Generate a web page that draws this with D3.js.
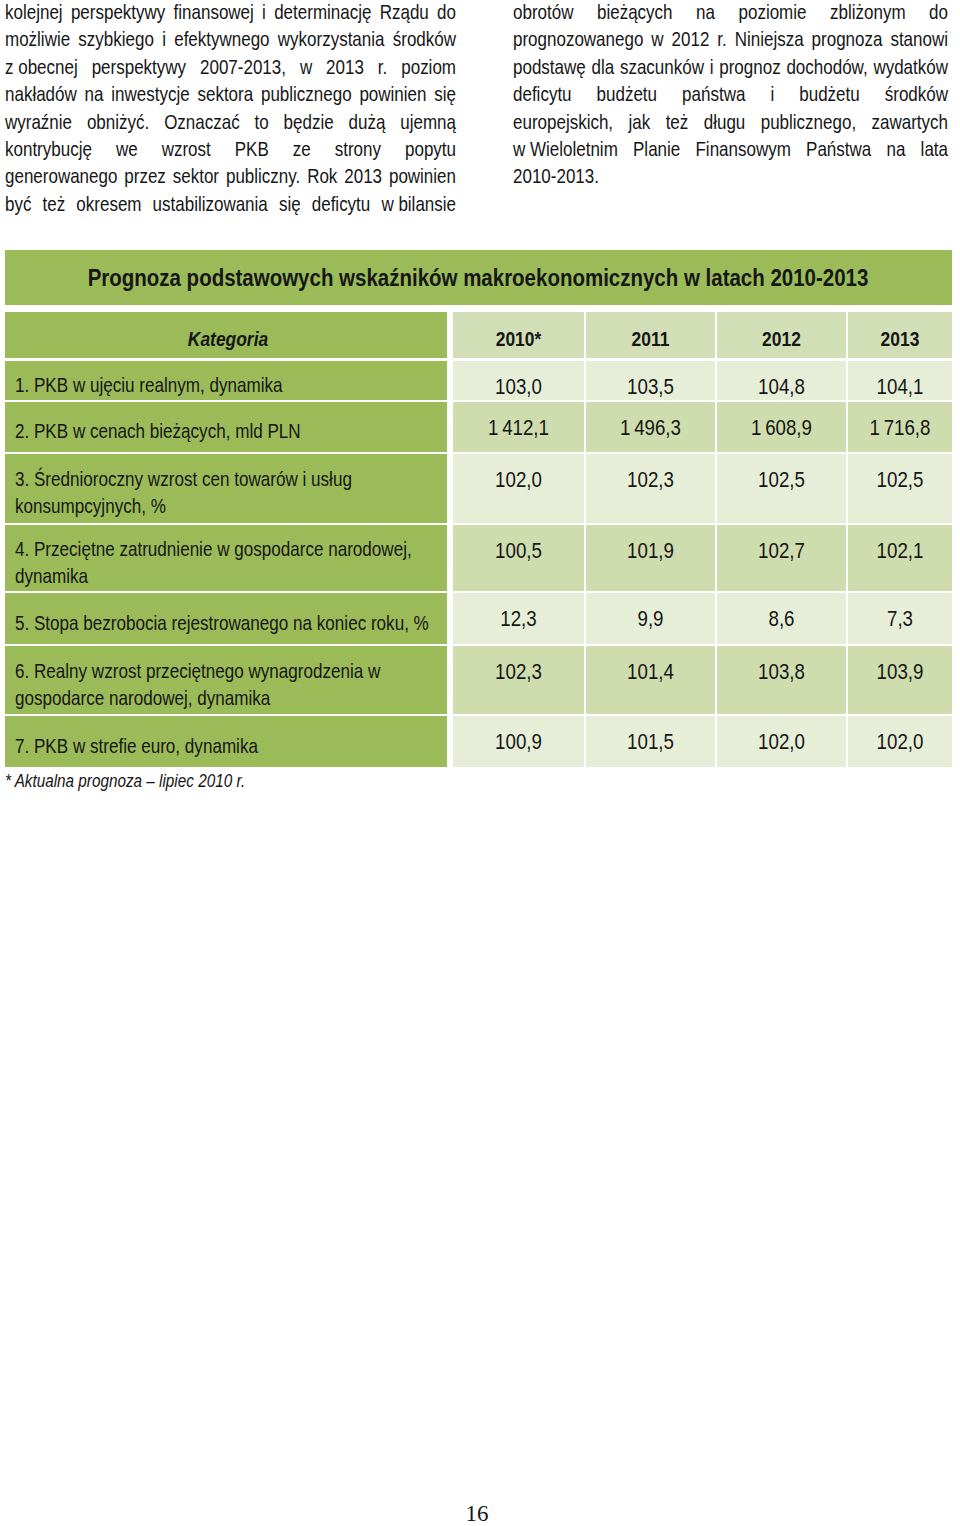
<!DOCTYPE html>
<html><head><meta charset="utf-8">
<script src="https://cdn.jsdelivr.net/npm/d3@7"></script>
<style>body{margin:0;background:#fff} svg{display:block}</style>
</head><body>
<script>
// ---------- DATA ----------
const leftParagraph = [
  "kolejnej perspektywy finansowej i determinację Rządu do",
  "możliwie szybkiego i efektywnego wykorzystania środków",
  "z\u00a0obecnej perspektywy 2007-2013, w 2013 r. poziom",
  "nakładów na inwestycje sektora publicznego powinien się",
  "wyraźnie obniżyć. Oznaczać to będzie dużą ujemną",
  "kontrybucję we wzrost PKB ze strony popytu",
  "generowanego przez sektor publiczny. Rok 2013 powinien",
  "być też okresem ustabilizowania się deficytu w\u00a0bilansie"
];
const rightParagraph = [
  "obrotów bieżących na poziomie zbliżonym do",
  "prognozowanego w 2012 r. Niniejsza prognoza stanowi",
  "podstawę dla szacunków i prognoz dochodów, wydatków",
  "deficytu budżetu państwa i budżetu środków",
  "europejskich, jak też długu publicznego, zawartych",
  "w\u00a0Wieloletnim Planie Finansowym Państwa na lata",
  "2010-2013."
];
const tableTitle = "Prognoza podstawowych wskaźników makroekonomicznych w latach 2010-2013";
const categoryHeader = "Kategoria";
const years = ["2010*", "2011", "2012", "2013"];
const categories = [
  ["1. PKB w ujęciu realnym, dynamika"],
  ["2. PKB w cenach bieżących, mld PLN"],
  ["3. Średnioroczny wzrost cen towarów i usług", "konsumpcyjnych, %"],
  ["4. Przeciętne zatrudnienie w gospodarce narodowej,", "dynamika"],
  ["5. Stopa bezrobocia rejestrowanego na koniec roku, %"],
  ["6. Realny wzrost przeciętnego wynagrodzenia w", "gospodarce narodowej, dynamika"],
  ["7. PKB w strefie euro, dynamika"]
];
const values2010 = [103.0, 1412.1, 102.0, 100.5, 12.3, 102.3, 100.9];
const values2011 = [103.5, 1496.3, 102.3, 101.9, 9.9, 101.4, 101.5];
const values2012 = [104.8, 1608.9, 102.5, 102.7, 8.6, 103.8, 102.0];
const values2013 = [104.1, 1716.8, 102.5, 102.1, 7.3, 103.9, 102.0];
const footnote = "* Aktualna prognoza \u2013 lipiec 2010 r.";
const pageNumber = "16";

// ---------- LAYOUT / STYLE ----------
const W = 960, H = 1526;
const SANS = "'Liberation Sans',Arial,sans-serif";
const NARROW_X = 0.85; // Arial Narrow ≈ Arial compressed horizontally
const INK = "#161616";
const GREEN = "#9BBB59", HEAD_FILL = "#D2DFB6", DARK_FILL = "#CEDCAE", LIGHT_FILL = "#E6EED8";
const tableLeft = 5, tableRight = 952, catRight = 447, yearsLeft = 453;
const colWidths = [131, 129, 129, 104], colGap = 2;
const headerTop = 312, headerH = 46, firstRowTop = 361;
const rowHeights = [39, 50, 69, 66, 51, 68, 51], rowGap = 2;

const svg = d3.select("body").append("svg").attr("width", W).attr("height", H);

function ntext(parent, x, y, str, o = {}) {
  return parent.append("text")
    .attr("transform", `translate(${x},${y}) scale(${NARROW_X},1)`)
    .attr("text-anchor", o.anchor || "start")
    .attr("font-family", SANS)
    .attr("font-size", o.size || 20)
    .attr("font-weight", o.weight || "normal")
    .attr("font-style", o.style || "normal")
    .attr("fill", INK)
    .text(str);
}

// ---------- paragraphs (justified) ----------
function justified(lines, x0, x1, y0, step, lastFree) {
  const g = svg.append("g");
  const probe = ntext(g, 0, -100, "");
  lines.forEach((line, i) => {
    const y = y0 + i * step;
    const words = line.split(" ");
    const widths = words.map(w => { probe.text(w); return probe.node().getComputedTextLength() * NARROW_X; });
    const free = lastFree && i === lines.length - 1;
    const gap = free ? 4.5 : (x1 - x0 - d3.sum(widths)) / (words.length - 1);
    let x = x0;
    words.forEach((w, k) => {
      ntext(g, x, y, w);
      x += widths[k] + gap;
    });
  });
  probe.remove();
}
justified(leftParagraph, 5, 456, 19, 27.4, false);
justified(rightParagraph, 513, 948, 19, 27.4, true);

// ---------- table ----------
const colX = d3.scaleOrdinal(years, years.map((_, i) => yearsLeft + d3.sum(colWidths.slice(0, i)) + i * colGap));
const colW = d3.scaleOrdinal(years, colWidths);
const rowIdx = d3.range(categories.length);
const rowY = d3.scaleOrdinal(rowIdx, rowIdx.map(i => firstRowTop + d3.sum(rowHeights.slice(0, i)) + i * rowGap));
const rowH = d3.scaleOrdinal(rowIdx, rowHeights);
const series = [values2010, values2011, values2012, values2013];
const pl = d3.formatLocale({decimal: ",", thousands: "\u2009", grouping: [3], currency: ["", " zł"]});
const fmt = pl.format(",.1f");

// title bar
svg.append("rect").attr("x", tableLeft).attr("y", 250).attr("width", tableRight - tableLeft).attr("height", 55).attr("fill", GREEN);
ntext(svg, 478, 286, tableTitle, {anchor: "middle", weight: "bold", size: 24.1});

// header
svg.append("rect").attr("x", tableLeft).attr("y", headerTop).attr("width", catRight - tableLeft).attr("height", headerH).attr("fill", GREEN);
ntext(svg, (tableLeft + catRight) / 2 + 2, headerTop + 34, categoryHeader, {anchor: "middle", weight: "bold", style: "italic", size: 20.5});
const hdr = svg.append("g").selectAll("g").data(years).join("g");
hdr.append("rect").attr("x", d => colX(d)).attr("y", headerTop).attr("width", d => colW(d)).attr("height", headerH).attr("fill", HEAD_FILL);
hdr.each(function (d) { ntext(d3.select(this), colX(d) + colW(d) / 2, headerTop + 34, d, {anchor: "middle", weight: "bold", size: 20.5}); });

// rows
const rows = svg.append("g").selectAll("g").data(rowIdx).join("g");
rows.append("rect").attr("x", tableLeft).attr("y", i => rowY(i)).attr("width", catRight - tableLeft).attr("height", i => rowH(i)).attr("fill", GREEN);
rows.each(function (i) {
  const g = d3.select(this);
  const lines = categories[i];
  const mid = rowY(i) + rowH(i) / 2 + 4.3;
  lines.forEach((ln, k) => {
    const c = mid + (k - (lines.length - 1) / 2) * 27;
    ntext(g, 15, c + 7, ln, {size: 20.1});
  });
  years.forEach((yr, j) => {
    g.append("rect").attr("x", colX(yr)).attr("y", rowY(i)).attr("width", colW(yr)).attr("height", rowH(i))
      .attr("fill", i % 2 === 0 ? LIGHT_FILL : DARK_FILL);
    ntext(g, colX(yr) + colW(yr) / 2, rowY(i) + 25.5 + 7.8, fmt(series[j][i]), {anchor: "middle", size: 22});
  });
});

// footnote
ntext(svg, 5, 787, footnote, {style: "italic", size: 18});

// page number
svg.append("text").attr("x", 477).attr("y", 1521).attr("text-anchor", "middle")
  .attr("font-family", "'Liberation Serif','Times New Roman',serif").attr("font-size", 23).attr("fill", INK).text(pageNumber);
</script>
</body></html>
